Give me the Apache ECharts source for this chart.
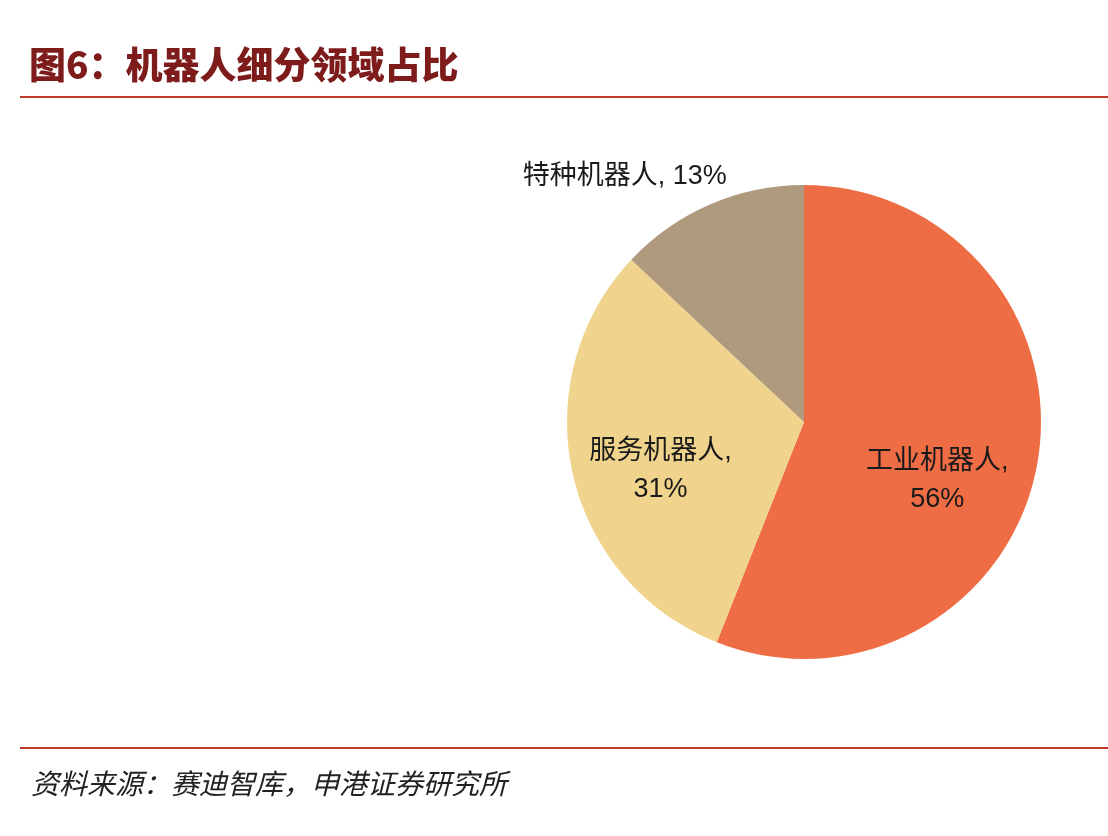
<!DOCTYPE html>
<html>
<head>
<meta charset="utf-8">
<script src="https://cdn.jsdelivr.net/npm/echarts@6/dist/echarts.min.js"></script>
<style>
  html, body { margin: 0; padding: 0; background: #fff; }
  #chart { width: 1108px; height: 836px; }
</style>
</head>
<body>
<div id="chart"></div>
<script>
let categories = ['工业机器人', '服务机器人', '特种机器人']
let shares = [56, 31, 13]
let colors = ['#EE6D45', '#F0D48D', '#B09A7D']
// 标签位置微调
let labelOffsets = [[14, 36], [-25, 22], [-131, -134]]
let labelBreaks = ['\n', '\n', ' ']

let chartDom = document.getElementById('chart')
const myChart = echarts.init(chartDom)

let pieData = categories.map((name, i) => ({
  name: name,
  value: shares[i],
  itemStyle: { color: colors[i] },
  label: {
    offset: labelOffsets[i],
    formatter: '{b},' + labelBreaks[i] + '{d}%'
  }
}))

let option = {
  backgroundColor: '#fff',
  animation: false,
  title: [
    {
      text: '图6：机器人细分领域占比',
      left: 24,
      top: 41,
      textStyle: {
        fontFamily: 'Noto Sans CJK SC',
        fontSize: 37,
        fontWeight: 900,
        color: '#7E1C1C'
      }
    },
    {
      text: '资料来源：赛迪智库，申港证券研究所',
      left: 26,
      top: 764,
      textStyle: {
        fontFamily: 'Noto Sans CJK SC',
        fontSize: 28,
        fontStyle: 'italic',
        fontWeight: 'normal',
        color: '#222'
      }
    }
  ],
  graphic: [
    { type: 'line', shape: { x1: 20, y1: 97, x2: 1108, y2: 97 }, style: { stroke: '#C0392B', lineWidth: 2 } },
    { type: 'line', shape: { x1: 20, y1: 748, x2: 1108, y2: 748 }, style: { stroke: '#C0392B', lineWidth: 2 } }
  ],
  series: [
    {
      type: 'pie',
      center: [804, 422],
      radius: 237,
      startAngle: 90,
      clockwise: true,
      data: pieData,
      label: {
        show: true,
        position: 'inside',
        fontFamily: 'Liberation Sans, Noto Sans CJK SC',
        fontSize: 27,
        lineHeight: 38,
        color: '#1a1a1a',
        align: 'center'
      },
      labelLine: { show: false },
      emphasis: { disabled: true }
    }
  ]
}
myChart.setOption(option)
</script>
</body>
</html>
